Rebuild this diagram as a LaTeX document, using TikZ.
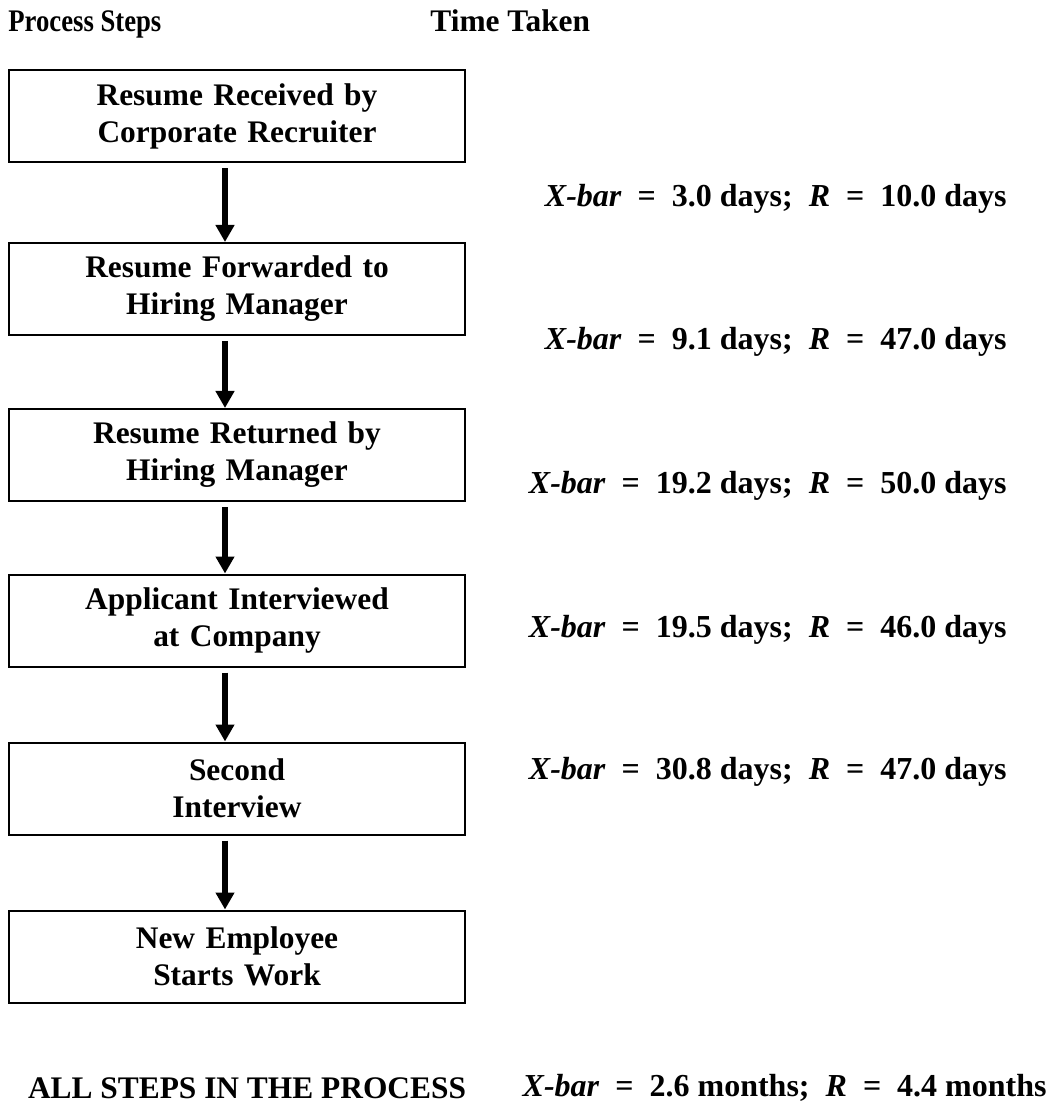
\documentclass[tikz,border=0pt]{standalone}
\usepackage{fontspec}
\setmainfont{Liberation Serif}
\usetikzlibrary{arrows.meta}
\tikzset{>={Triangle[width=9pt,length=8.5pt]}}
\tikzset{
  stepbox/.style={draw, line width=1pt, minimum width=228pt, minimum height=46pt,
    text width=224pt, align=center, inner sep=0pt,
    font=\fontsize{15.7}{18.5}\selectfont\bfseries},
  flow/.style={->, line width=3.2pt, shorten <=2.5pt},
  plain/.style={font=\fontsize{15.7}{18.5}\selectfont\bfseries, inner sep=0pt},
  timelabel/.style={font=\fontsize{16}{19}\selectfont\bfseries, inner sep=0pt, anchor=east}
}
\newcommand{\xbarR}[3]{\textit{X-bar}\ \ =\ \ #1 #3;\ \ \textit{R}\ \ =\ \ #2 #3}

\begin{document}
\begin{tikzpicture}[x=0.5pt,y=-0.5pt]
      \useasboundingbox (0,0) rectangle (1055,1106);
      \def\xbox{237}  % centre of the step boxes
      \def\xtime{1007} % right edge of the times
      %
      \node[plain, anchor=base west] (hsteps) at (8,32) {\scalebox{0.85}[1]{Process Steps}};
      \node[plain, anchor=base west] (htime) at (430,32) {Time Taken};
      %
      \foreach \n/\y/\txt in {1/116.5/{Resume Received by\\Corporate Recruiter},
                              2/289/{Resume Forwarded to\\Hiring Manager},
                              3/455/{Resume Returned by\\Hiring Manager},
                              4/620.5/{Applicant Interviewed\\at Company},
                              5/788.5/{Second\\Interview},
                              6/956.5/{New Employee\\Starts Work}} {%
        \node[stepbox] (s\n) at (\xbox,\y) {\txt};
      }
      %
      \foreach \a/\b in {1/2,2/3,3/4,4/5,5/6} {%
        \draw[flow] ([xshift=-6pt]s\a.south) -- ([xshift=-6pt]s\b.north);
      }
      %
      \node[timelabel] (t1) at (\xtime,199) {\xbarR{3.0}{10.0}{days}};
      \node[timelabel] (t2) at (\xtime,342) {\xbarR{9.1}{47.0}{days}};
      \node[timelabel] (t3) at (\xtime,486) {\xbarR{19.2}{50.0}{days}};
      \node[timelabel] (t4) at (\xtime,630) {\xbarR{19.5}{46.0}{days}};
      \node[timelabel] (t5) at (\xtime,772) {\xbarR{30.8}{47.0}{days}};
      %
      \node[plain] (all) at (247,1088) {ALL STEPS IN THE PROCESS};
      \node[timelabel] (tall) at (1047,1088) {\xbarR{2.6}{4.4}{months}};
    \end{tikzpicture}
\end{document}
